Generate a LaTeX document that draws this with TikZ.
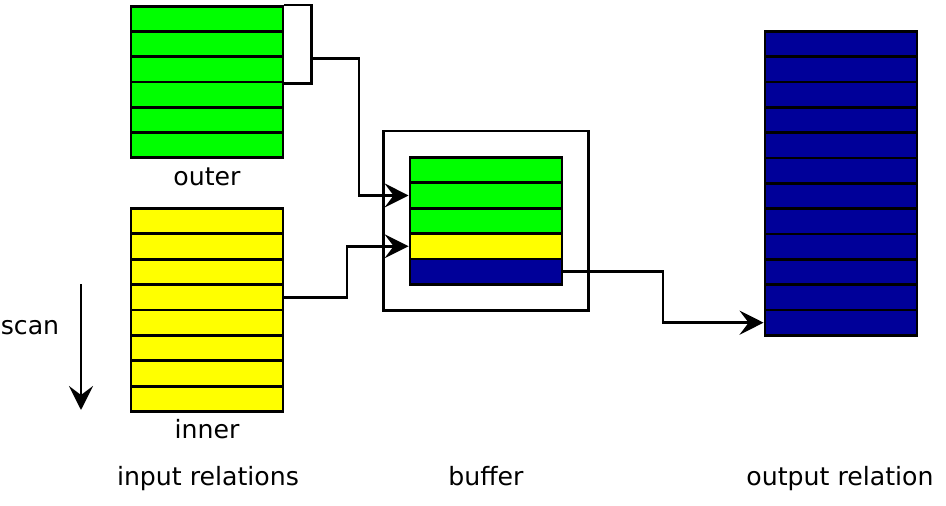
\documentclass[tikz,border=0pt]{standalone}
\usepackage{fontspec}
\setmainfont{DejaVu Sans}
\usetikzlibrary{arrows.meta,fit}
\definecolor{rowgreen}{RGB}{0,255,0}
\definecolor{rowyellow}{RGB}{255,255,0}
\definecolor{rowblue}{RGB}{0,0,153}
\begin{document}
\begin{tikzpicture}[x=1pt,y=-1pt,
  line width=2.8pt,
  rowbox/.style={draw=black,line width=2.8pt,rectangle,inner sep=0pt,minimum width=152pt,minimum height=25.3pt,anchor=north},
  linkline/.style={draw=black,line width=2.8pt},
  linkarrow/.style={linkline,-{Stealth[length=24pt,width=24pt,inset=9pt]}},
  lbl/.style={font=\fontsize{25.2}{30}\selectfont,inner sep=0pt,anchor=base}]
\useasboundingbox (0,0) rectangle (946,506);
% outer relation
\foreach \k in {1,...,6}
  \node[rowbox,fill=rowgreen] (o\k) at (207,{5+25.2*(\k-1)}) {};
% inner relation
\foreach \k in {1,...,8}
  \node[rowbox,fill=rowyellow] (i\k) at (207,{207+25.4*(\k-1)}) {};
% buffer stack
\foreach \k/\c in {1/rowgreen,2/rowgreen,3/rowgreen,4/rowyellow,5/rowblue}
  \node[rowbox,fill=\c] (b\k) at (486,{156+25.4*(\k-1)}) {};
\node[draw=black,line width=2.8pt,rectangle,inner sep=25pt,fit=(b1)(b5)] (buf) {};
% output relation
\foreach \k in {1,...,12}
  \node[rowbox,fill=rowblue] (r\k) at (841,{30+25.33*(\k-1)}) {};
% bracket on outer
\coordinate (brt) at ([xshift=27pt]o1.north east);
\coordinate (brb) at ([xshift=27pt]o3.south east);
\coordinate (brm) at ([xshift=27pt]o2.south east);
\draw[linkline] (o1.north east) -- (brt) -- (brb) -- (o3.south east);
% connectors
\draw[linkarrow] (brm) -- (359,0 |- brm) |- (b2.west);
\draw[linkarrow] (i4.east) -- (347,0 |- i4.east) |- (b4.west);
\draw[linkarrow] (b5.east) -- (663,0 |- b5.east) |- (r12.west);
% scan arrow
\coordinate (scantop) at (81,284);
\coordinate (scanbot) at (81,410);
\draw[linkarrow] (scantop) -- (scanbot);
% labels
\node[lbl] (scanl) at (30,334) {scan};
\node[lbl] (outerl) at (207,185) {outer};
\node[lbl] (innerl) at (207,438) {inner};
\node[lbl] (inrel) at (208,485) {input relations};
\node[lbl] (bufl) at (486,485) {buffer};
\node[lbl] (outrel) at (840,485) {output relation};
\end{tikzpicture}
\end{document}
